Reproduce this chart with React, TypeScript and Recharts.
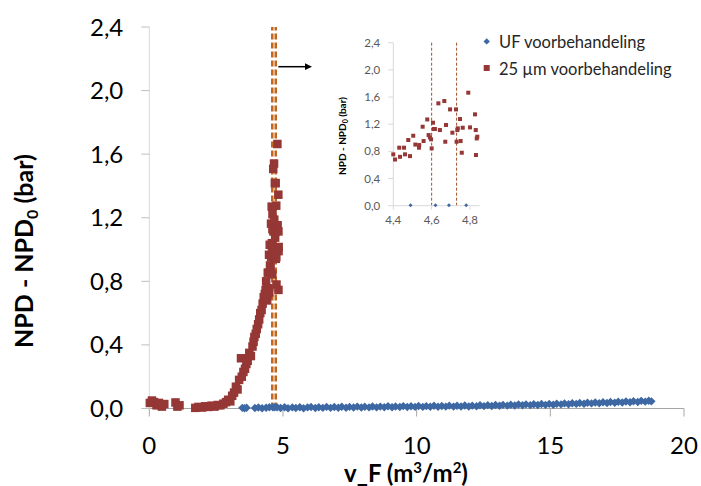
import React from 'react';
import { ScatterChart, Scatter, XAxis, YAxis, ReferenceLine } from 'recharts';

// UF voorbehandeling (blue diamonds)
const ufX = [
  3.48, 3.56, 3.64, 3.95, 4.08, 4.22, 4.37, 4.49, 4.62, 4.69, 4.78,
  4.91, 5.06, 5.19, 5.35, 5.48, 5.63, 5.77, 5.92, 6.05, 6.21,
  6.34, 6.49, 6.63, 6.78, 6.92, 7.07, 7.2, 7.36, 7.49, 7.64,
  7.78, 7.93, 8.06, 8.22, 8.35, 8.5, 8.64, 8.79, 8.93, 9.08,
  9.21, 9.37, 9.5, 9.65, 9.79, 9.94, 10.07, 10.23, 10.36, 10.51,
  10.65, 10.8, 10.94, 11.09, 11.22, 11.38, 11.51, 11.66, 11.8, 11.95,
  12.08, 12.24, 12.37, 12.52, 12.66, 12.81, 12.95, 13.1, 13.23, 13.39,
  13.52, 13.67, 13.81, 13.96, 14.09, 14.25, 14.38, 14.53, 14.67, 14.82,
  14.96, 15.11, 15.24, 15.4, 15.53, 15.68, 15.82, 15.97, 16.1, 16.26,
  16.39, 16.54, 16.68, 16.83, 16.97, 17.12, 17.25, 17.41, 17.54, 17.69,
  17.83, 17.98, 18.11, 18.27, 18.4, 18.55, 18.68, 18.78,
];
const ufY = [
  0.004, 0.002, 0.005, 0.003, 0.006, 0.002, 0.005, 0.008, 0.008, 0.008, 0.008,
  0.003, 0.008, 0.002, 0.007, 0.003, 0.008, 0.002, 0.007, 0.009, 0.003,
  0.008, 0.004, 0.01, 0.004, 0.009, 0.005, 0.011, 0.005, 0.01, 0.006,
  0.012, 0.006, 0.011, 0.007, 0.013, 0.007, 0.012, 0.008, 0.014, 0.008,
  0.013, 0.009, 0.015, 0.009, 0.014, 0.01, 0.016, 0.01, 0.015, 0.011,
  0.017, 0.011, 0.016, 0.012, 0.018, 0.012, 0.017, 0.013, 0.019, 0.013,
  0.018, 0.014, 0.02, 0.015, 0.021, 0.016, 0.022, 0.017, 0.023, 0.018,
  0.024, 0.019, 0.025, 0.02, 0.026, 0.021, 0.027, 0.022, 0.028, 0.023,
  0.029, 0.024, 0.03, 0.026, 0.032, 0.027, 0.033, 0.029, 0.035, 0.03,
  0.036, 0.032, 0.038, 0.033, 0.039, 0.035, 0.041, 0.036, 0.042, 0.038,
  0.044, 0.039, 0.046, 0.041, 0.048, 0.043, 0.049, 0.045,
];

// 25 µm voorbehandeling (red squares)
const umX = [
  0.02, 0.1, 0.18, 0.27, 0.36, 0.47, 0.56, 0.98, 1.05, 1.13,
  1.72, 1.84, 1.97, 2.09, 2.21, 2.33, 2.44, 2.56, 2.66, 2.77,
  2.87, 2.95, 3.03, 3.1, 3.17, 3.24, 3.3, 3.36, 3.43, 3.46,
  3.52, 3.58, 3.63, 3.68, 3.74, 3.8, 3.86, 3.9, 3.93, 3.98,
  4.02, 4.07, 4.11, 4.15, 4.2, 4.24, 4.28, 4.32, 4.35, 4.37,
  4.4, 4.409, 4.431, 4.435, 4.456, 4.461, 4.487, 4.478, 4.504, 4.515,
  4.534, 4.535, 4.553, 4.558, 4.577, 4.584, 4.591, 4.597, 4.6, 4.607,
  4.612, 4.617, 4.635, 4.643, 4.666, 4.671, 4.675, 4.696, 4.708, 4.727,
  4.734, 4.736, 4.73, 4.748, 4.751, 4.757, 4.762, 4.791, 4.8, 4.826,
  4.83, 4.835, 4.831, 4.838,
];
const umY = [
  0.035, 0.05, 0.04, 0.02, 0.035, 0.012, 0.028, 0.038, 0.012, 0.02,
  0.004, 0.01, 0.006, 0.014, 0.01, 0.018, 0.012, 0.022, 0.02, 0.03,
  0.04, 0.055, 0.045, 0.08, 0.1, 0.137, 0.12, 0.18, 0.316, 0.2,
  0.23, 0.25, 0.28, 0.3, 0.35, 0.33, 0.39, 0.42, 0.45, 0.47,
  0.5, 0.53, 0.56, 0.6, 0.62, 0.66, 0.7, 0.72, 0.745, 0.8,
  0.756, 0.68, 0.854, 0.72, 0.854, 0.756, 0.73, 0.967, 1.03, 0.9,
  0.854, 0.893, 1.163, 0.952, 1.27, 1.04, 1.006, 0.977, 0.844, 1.222,
  1.129, 1.129, 1.507, 1.114, 1.541, 0.942, 1.188, 1.418, 1.075, 1.418,
  1.114, 1.139, 0.942, 1.276, 0.952, 0.78, 1.148, 1.664, 1.153, 1.345,
  1.114, 0.99, 0.746, 1.016,
];

const yTicks = [0, 0.4, 0.8, 1.2, 1.6, 2.0, 2.4];
const xTicks = [0, 5, 10, 15, 20];
const insetXTicks = [4.4, 4.6, 4.8];
const cutLines = [4.6, 4.73];

const BLUE = '#3D68A3';
const RED = '#953735';
const ORANGE = '#C0661E';
const FONT = 'Lato, "Open Sans", sans-serif';

const ufData = ufX.map((x, i) => ({ x, y: ufY[i] }));
const umData = umX.map((x, i) => ({ x, y: umY[i] }));
const inRange = (d: { x: number }) => d.x >= 4.4 && d.x <= 4.85;

const comma = (v: number) => v.toFixed(1).replace('.', ',');

const diamond = (r: number) => (props: any) => {
  const { cx, cy } = props;
  return <polygon points={`${cx},${cy - r} ${cx + r},${cy} ${cx},${cy + r} ${cx - r},${cy}`} fill={BLUE} />;
};
const square = (s: number) => (props: any) => {
  const { cx, cy } = props;
  return <rect x={cx - s / 2} y={cy - s / 2} width={s} height={s} fill={RED} />;
};

const App: React.FC = () => {
  return (
    <div style={{ position: 'fixed', left: 0, top: 0, width: 701, height: 486, background: '#fff', fontFamily: FONT }}>
      {/* main chart */}
      <div style={{ position: 'absolute', left: 0, top: 0 }}>
        <ScatterChart width={701} height={486} margin={{ top: 27, right: 17, bottom: 0, left: 0 }}>
          <XAxis
            type="number"
            dataKey="x"
            domain={[0, 20]}
            ticks={xTicks}
            interval={0}
            height={77.5}
            tickSize={8}
            tickMargin={20}
            axisLine={{ stroke: '#A6A6A6' }}
            tickLine={{ stroke: '#A6A6A6' }}
            tick={{ fontSize: 24, fill: '#000', fontFamily: FONT }}
          />
          <YAxis
            type="number"
            dataKey="y"
            domain={[0, 2.4]}
            ticks={yTicks}
            interval={0}
            width={149.3}
            tickSize={8}
            tickMargin={18}
            tickFormatter={comma}
            axisLine={{ stroke: '#D9D9D9' }}
            tickLine={{ stroke: '#BFBFBF' }}
            tick={{ fontSize: 24, fill: '#000', fontFamily: FONT }}
          />
          <Scatter data={ufData} shape={diamond(4.2)} isAnimationActive={false} />
          <Scatter data={umData} shape={square(8.5)} isAnimationActive={false} />
          {cutLines.map(v => (
            <ReferenceLine key={v} x={v} stroke={ORANGE} strokeWidth={2.5} strokeDasharray="6 3" />
          ))}
        </ScatterChart>
      </div>

      {/* inset */}
      <div style={{ position: 'absolute', left: 330, top: 30 }}>
        <ScatterChart width={160} height={200} margin={{ top: 12.7, right: 10.4, bottom: 0, left: 0 }}>
          <XAxis
            type="number"
            dataKey="x"
            domain={[4.4, 4.85]}
            ticks={insetXTicks}
            interval={0}
            height={24.3}
            tickSize={4}
            tickMargin={6}
            tickFormatter={comma}
            axisLine={{ stroke: '#D9D9D9' }}
            tickLine={{ stroke: '#D9D9D9' }}
            tick={{ fontSize: 11.5, fill: '#595959', fontFamily: FONT }}
          />
          <YAxis
            type="number"
            dataKey="y"
            domain={[0, 2.4]}
            ticks={yTicks}
            interval={0}
            width={63.3}
            tickSize={5}
            tickMargin={8}
            tickFormatter={comma}
            axisLine={{ stroke: '#D9D9D9' }}
            tickLine={{ stroke: '#D9D9D9' }}
            tick={{ fontSize: 11.5, fill: '#595959', fontFamily: FONT }}
          />
          <Scatter data={ufData.filter(inRange)} shape={diamond(2)} isAnimationActive={false} />
          <Scatter data={umData.filter(inRange)} shape={square(4)} isAnimationActive={false} />
          {cutLines.map(v => (
            <ReferenceLine key={v} x={v} stroke="#A0522D" strokeWidth={1} strokeDasharray="3 2" />
          ))}
        </ScatterChart>
      </div>

      {/* titles, legend, arrow */}
      <svg width={701} height={486} style={{ position: 'absolute', left: 0, top: 0, pointerEvents: 'none' }}>
        <text transform="translate(33,251) rotate(-90)" textAnchor="middle" fontFamily={FONT} fontWeight="bold" fontSize={25} fill="#000">
          NPD - NPD<tspan dy={5} fontSize={16}>0</tspan><tspan dy={-5}> (bar)</tspan>
        </text>
        <text x={406} y={481.5} textAnchor="middle" fontFamily={FONT} fontWeight="bold" fontSize={24} fill="#000">
          v_F (m<tspan dy={-9} fontSize={15}>3</tspan><tspan dy={9}>/m</tspan><tspan dy={-9} fontSize={15}>2</tspan><tspan dy={9}>)</tspan>
        </text>
        <text transform="translate(346,136) rotate(-90)" textAnchor="middle" fontFamily={FONT} fontWeight="bold" fontSize={10} fill="#000">
          NPD - NPD<tspan dy={2} fontSize={7}>0</tspan><tspan dy={-2}> (bar)</tspan>
        </text>

        <polygon points="486.7,38.2 489.9,41.4 486.7,44.6 483.5,41.4" fill={BLUE} />
        <text x={499} y={48.3} fontFamily={FONT} fontSize={16.5} fill="#262626">UF voorbehandeling</text>
        <rect x={483.7} y={65} width={6} height={6} fill={RED} />
        <text x={499} y={75} fontFamily={FONT} fontSize={16.5} fill="#262626">25 µm voorbehandeling</text>

        <line x1={278.3} y1={66.7} x2={306} y2={66.7} stroke="#000" strokeWidth={1.5} />
        <polygon points="305,63.3 312,66.7 305,70.1" fill="#000" />
      </svg>
    </div>
  );
};

export default App;
